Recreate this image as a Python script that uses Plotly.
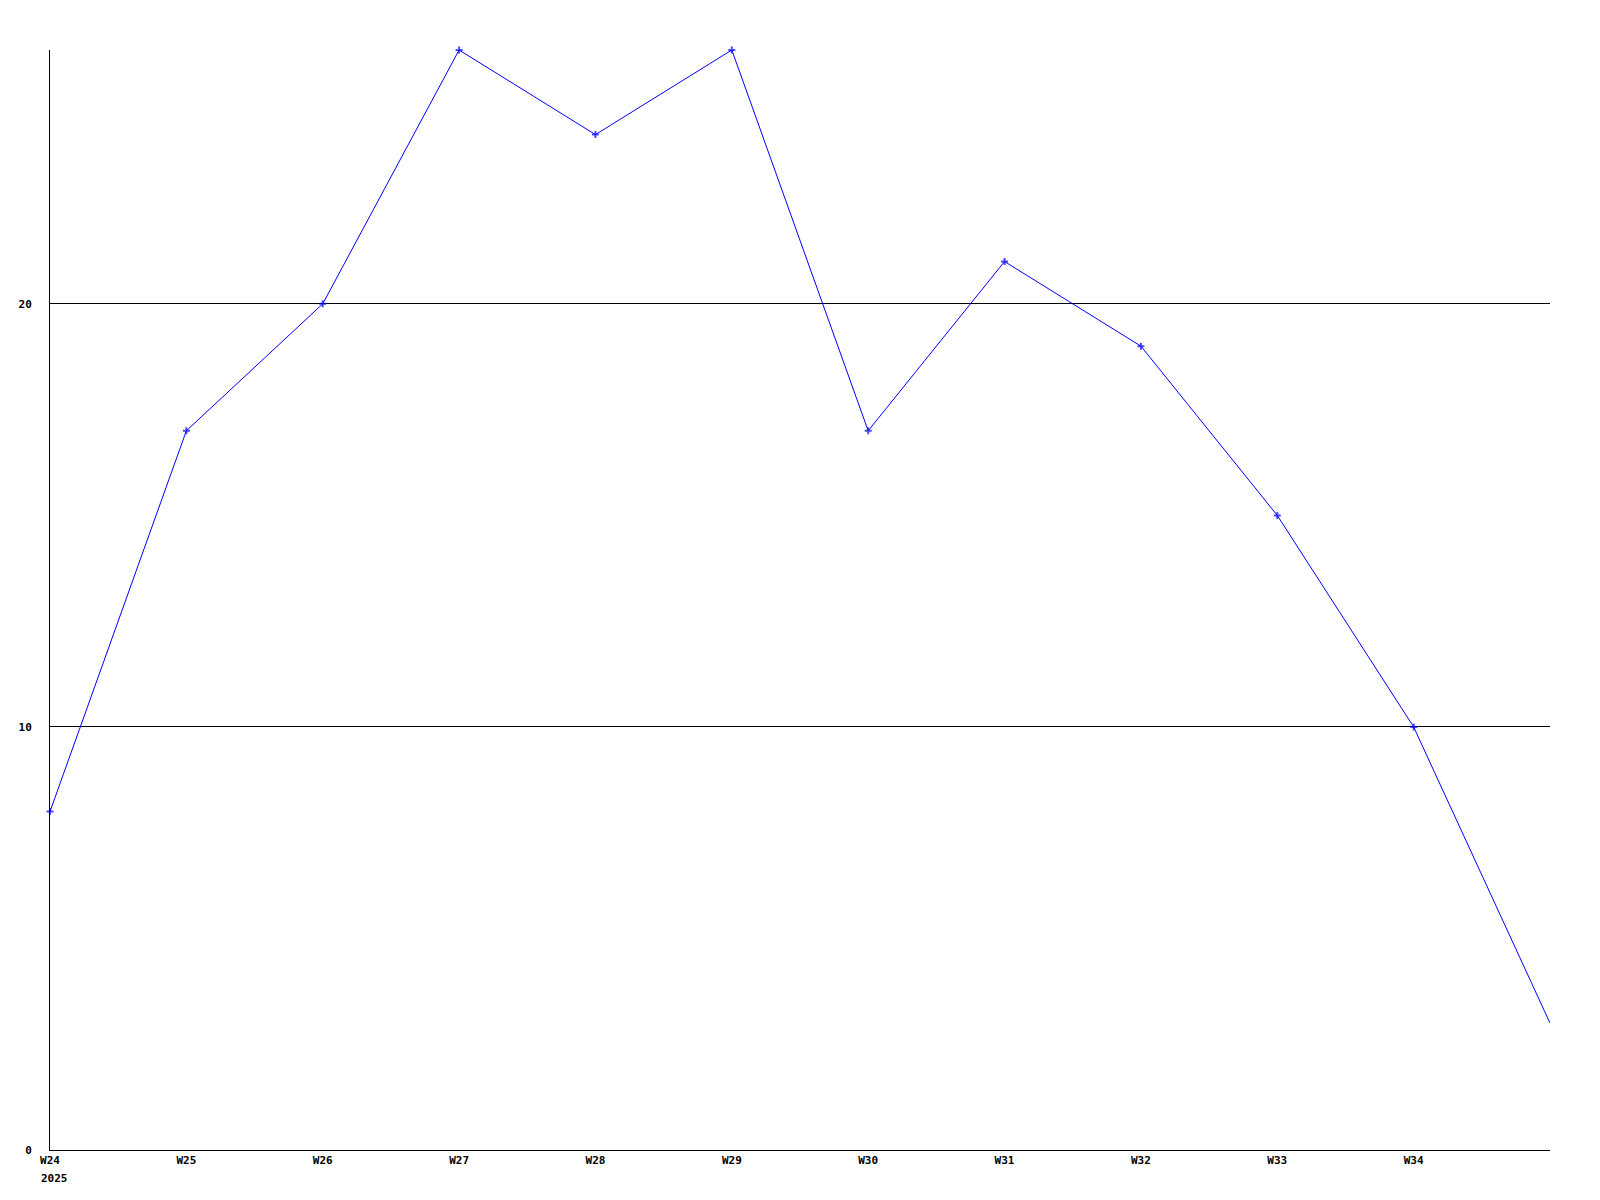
import plotly.graph_objects as go

weeks = ["W24", "W25", "W26", "W27", "W28", "W29", "W30", "W31", "W32", "W33", "W34", "W35"]
values = [8, 17, 20, 26, 24, 26, 17, 21, 19, 15, 10, 3]
tick_labels = ["W24", "W25", "W26", "W27", "W28", "W29", "W30", "W31", "W32", "W33", "W34"]
year_label = "2025"
y_ticks = [0, 10, 20]

x_idx = list(range(len(weeks)))
marker_sizes = [5] * (len(weeks) - 1) + [0]

font = dict(family="DejaVu Sans Mono", size=11, color="black")

fig = go.Figure()
fig.add_trace(go.Scatter(
    x=x_idx, y=values, mode="lines+markers",
    line=dict(color="#0000ff", width=1),
    marker=dict(symbol="cross-thin", size=marker_sizes, color="#0000ff",
                line=dict(color="#0000ff", width=2)),
    cliponaxis=False, showlegend=False,
))

fig.add_annotation(
    x=0, y=0, xref="x", yref="y", text="<b>" + year_label + "</b>",
    showarrow=False, xanchor="left", yanchor="top", xshift=-11, yshift=-20,
    font=font,
)

fig.update_layout(
    width=1584, height=1184,
    margin=dict(l=42, r=42, t=42, b=42, autoexpand=False),
    paper_bgcolor="white", plot_bgcolor="white",
    font=font,
    xaxis=dict(
        range=[0, len(weeks) - 1], tickvals=x_idx[:-1],
        ticktext=["<b>" + t + "</b>" for t in tick_labels],
        showgrid=False, zeroline=False, showline=True, linecolor="black", linewidth=1,
        ticks="", tickfont=font, automargin=False,
    ),
    yaxis=dict(
        range=[0, 26], tickvals=y_ticks,
        ticktext=["<b>" + str(v) + "</b>" for v in y_ticks],
        showgrid=True, gridcolor="black", gridwidth=1,
        zeroline=False, showline=True, linecolor="black", linewidth=1,
        ticks="", tickfont=font, ticklabelstandoff=15, automargin=False,
    ),
)

fig.write_html("out.html")
